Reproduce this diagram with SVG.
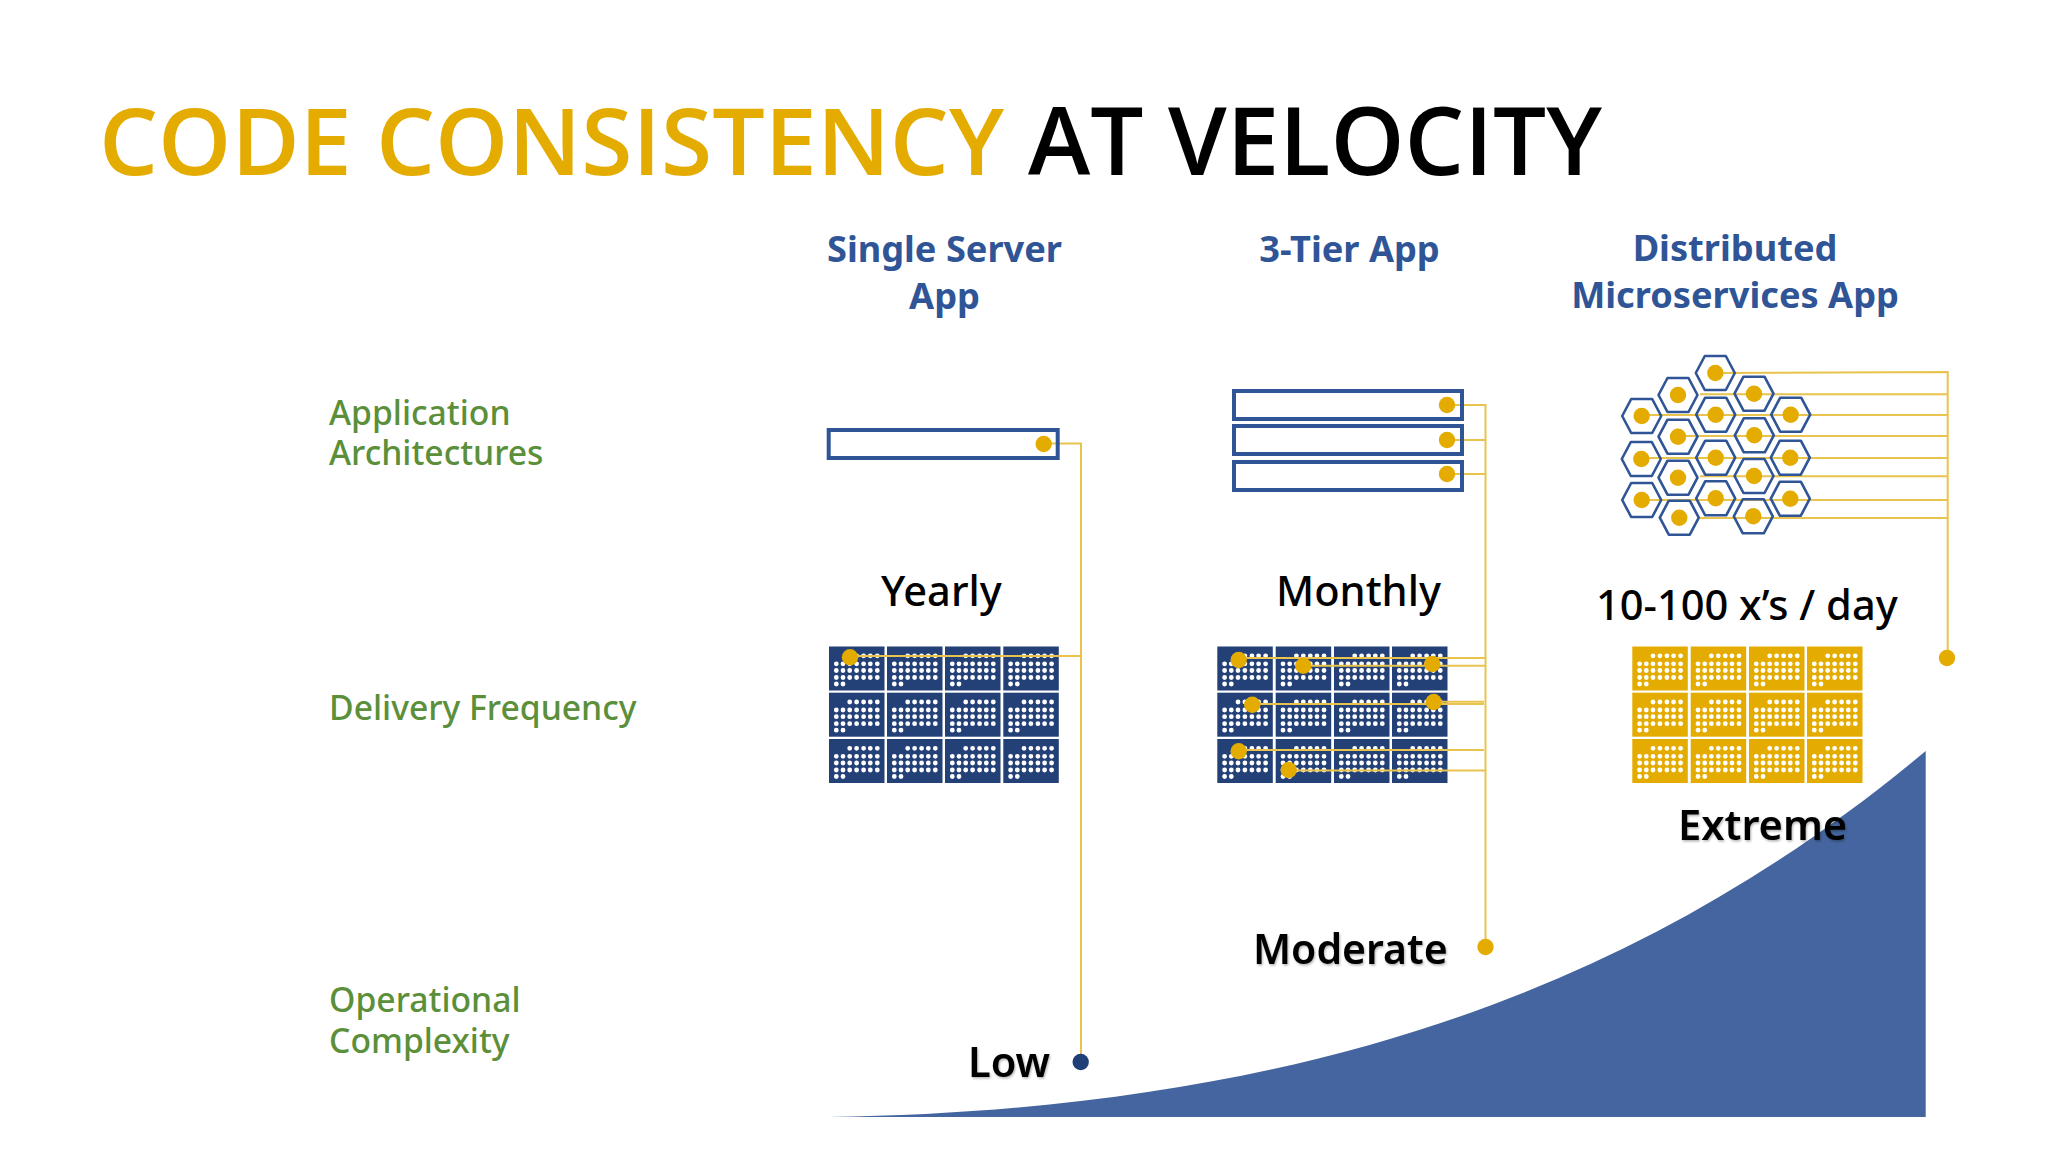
<svg xmlns="http://www.w3.org/2000/svg" width="2048" height="1152" viewBox="0 0 2048 1152">
<style>
text{font-family:"Noto Sans","Open Sans","Liberation Sans",sans-serif}
.title{font-family:"Open Sans","Noto Sans",sans-serif;font-weight:600}
.gold{fill:#E4AC00;font-size:93.2px}
.ink{fill:#000;font-size:94.2px}
.head{font-size:36.2px;font-weight:700;fill:#2F5597;text-anchor:middle}
.side{font-size:33.7px;font-weight:500;fill:#5B8F3A}
.val{font-size:41.6px;font-weight:500;fill:#000}
.valb{font-weight:600;filter:url(#soft)}
.cn{fill:none;stroke:#E8C44E;stroke-width:2}
.srv{fill:none;stroke:#2F5597;stroke-width:4}
.hex{fill:none;stroke:#2F5597;stroke-width:2.6;stroke-linejoin:round}
.pt{fill:#E4AC00}
.calb{fill:#234177}
.caly{fill:#E4AC00}
.dots{fill:none;stroke:#fff;stroke-width:4.8;stroke-linecap:round}
</style>
<defs>
<filter id="soft" x="-10%" y="-20%" width="120%" height="140%"><feDropShadow dx="1" dy="1.5" stdDeviation="1.2" flood-color="#000" flood-opacity="0.3"/></filter>
<path id="cd" class="dots" d="M20.7 9.3h0M27.6 9.3h0M34.6 9.3h0M41.3 9.3h0M48.3 9.3h0M7.3 17.3h0M14 17.3h0M20.7 17.3h0M27.6 17.3h0M34.6 17.3h0M41.3 17.3h0M48.3 17.3h0M7.3 24h0M14 24h0M20.7 24h0M27.6 24h0M34.6 24h0M41.3 24h0M48.3 24h0M7.3 31h0M14 31h0M20.7 31h0M27.6 31h0M34.6 31h0M41.3 31h0M48.3 31h0M7.3 37.5h0M14 37.5h0"/>
<g id="cb"><rect class="calb" width="55.5" height="44"/><use href="#cd"/></g>
<g id="cy"><rect class="caly" width="55.5" height="44"/><use href="#cd"/></g>
<g id="hx"><polygon class="hex" points="-19.5,0 -10.5,-17 10.5,-17 19.5,0 10.5,17 -10.5,17"/><circle class="pt" r="8.2"/></g>
</defs>
<rect width="2048" height="1152" fill="#fff"/>

<path id="complexity-curve" d="M829,1117C1300,1110 1640,990 1925.7,751V1117Z" fill="#44659F"/>

<g id="calendar-yearly">
<use href="#cb" x="829" y="646.5"/><use href="#cb" x="887" y="646.5"/><use href="#cb" x="945" y="646.5"/><use href="#cb" x="1003.3" y="646.5"/>
<use href="#cb" x="829" y="692.7"/><use href="#cb" x="887" y="692.7"/><use href="#cb" x="945" y="692.7"/><use href="#cb" x="1003.3" y="692.7"/>
<use href="#cb" x="829" y="739"/><use href="#cb" x="887" y="739"/><use href="#cb" x="945" y="739"/><use href="#cb" x="1003.3" y="739"/>
</g>
<g id="calendar-monthly">
<use href="#cb" x="1217.3" y="646.5"/><use href="#cb" x="1275.7" y="646.5"/><use href="#cb" x="1334" y="646.5"/><use href="#cb" x="1392" y="646.5"/>
<use href="#cb" x="1217.3" y="692.7"/><use href="#cb" x="1275.7" y="692.7"/><use href="#cb" x="1334" y="692.7"/><use href="#cb" x="1392" y="692.7"/>
<use href="#cb" x="1217.3" y="739"/><use href="#cb" x="1275.7" y="739"/><use href="#cb" x="1334" y="739"/><use href="#cb" x="1392" y="739"/>
</g>
<g id="calendar-daily">
<use href="#cy" x="1632.3" y="646.5"/><use href="#cy" x="1690.7" y="646.5"/><use href="#cy" x="1749" y="646.5"/><use href="#cy" x="1807" y="646.5"/>
<use href="#cy" x="1632.3" y="692.7"/><use href="#cy" x="1690.7" y="692.7"/><use href="#cy" x="1749" y="692.7"/><use href="#cy" x="1807" y="692.7"/>
<use href="#cy" x="1632.3" y="739"/><use href="#cy" x="1690.7" y="739"/><use href="#cy" x="1749" y="739"/><use href="#cy" x="1807" y="739"/>
</g>

<g id="connectors">
<path class="cn" d="M1043.7 443.5H1081V1062M850 656H1081"/>
<path class="cn" d="M1447 405H1485.5V947M1447 440H1485.5M1447 474H1485.5M1238.7 658H1485.5M1303.3 665.7H1485.5M1433.7 701.7H1484M1252.3 704H1484M1238.7 750H1484M1288.7 770.5H1485.5"/>
<path class="cn" d="M1715.3 373L1947.7 372V658M1700 394.3H1947.7M1641.7 415H1947.7M1678 436H1947.7M1641.3 458H1947.7M1700 476.3H1947.7M1641.7 500H1947.7M1700 518H1947.7"/>
</g>

<g id="server-single"><rect class="srv" x="828.7" y="430" width="229" height="28"/><circle class="pt" cx="1043.7" cy="444" r="8.2"/></g>
<g id="server-tier-1"><rect class="srv" x="1234" y="391" width="228" height="28"/><circle class="pt" cx="1447" cy="405" r="8.2"/></g>
<g id="server-tier-2"><rect class="srv" x="1234" y="426" width="228" height="28"/><circle class="pt" cx="1447" cy="440" r="8.2"/></g>
<g id="server-tier-3"><rect class="srv" x="1234" y="462" width="228" height="28"/><circle class="pt" cx="1447" cy="474" r="8.2"/></g>

<g id="microservices">
<use href="#hx" x="1715.3" y="373"/><use href="#hx" x="1678" y="395"/><use href="#hx" x="1754" y="393.7"/>
<use href="#hx" x="1641.7" y="416"/><use href="#hx" x="1715.7" y="414.7"/><use href="#hx" x="1790.7" y="414.7"/>
<use href="#hx" x="1678" y="436.7"/><use href="#hx" x="1754.3" y="435.3"/><use href="#hx" x="1641.3" y="459"/>
<use href="#hx" x="1715.7" y="457.7"/><use href="#hx" x="1790.3" y="457.7"/><use href="#hx" x="1678" y="477.7"/>
<use href="#hx" x="1754" y="476"/><use href="#hx" x="1641.7" y="500"/><use href="#hx" x="1715.7" y="498.3"/>
<use href="#hx" x="1790.3" y="498.7"/><use href="#hx" x="1679.3" y="517.7"/><use href="#hx" x="1753.3" y="516.3"/>
</g>

<g id="release-points">
<circle class="pt" cx="850" cy="657.3" r="8.2"/>
<circle class="pt" cx="1238.7" cy="660" r="8.2"/><circle class="pt" cx="1303.3" cy="665.7" r="8.2"/><circle class="pt" cx="1432.3" cy="664" r="8.2"/>
<circle class="pt" cx="1252.3" cy="704.7" r="8.2"/><circle class="pt" cx="1433.7" cy="702" r="8.2"/>
<circle class="pt" cx="1238.7" cy="751.3" r="8.2"/><circle class="pt" cx="1288.7" cy="770" r="8.2"/>
</g>

<g id="end-points">
<circle cx="1080.7" cy="1062" r="8.2" fill="#1F3F77"/>
<circle class="pt" cx="1485.5" cy="947" r="8.2"/>
<circle class="pt" cx="1947" cy="658" r="8.2"/>
</g>

<g id="title"><text class="title" y="175"><tspan class="gold" x="99">CODE CONSISTENCY</tspan><tspan class="ink" x="1028">AT VELOCITY</tspan></text></g>

<g id="column-heads">
<text class="head" x="944.5" y="262">Single Server</text><text class="head" x="944.5" y="309">App</text>
<text class="head" x="1349.5" y="262">3-Tier App</text>
<text class="head" x="1735" y="261">Distributed</text><text class="head" x="1735" y="308">Microservices App</text>
</g>
<g id="row-labels">
<text class="side" x="329" y="424.5">Application</text><text class="side" x="329" y="465">Architectures</text>
<text class="side" x="329" y="720">Delivery Frequency</text>
<text class="side" x="329" y="1012">Operational</text><text class="side" x="329" y="1053">Complexity</text>
</g>
<g id="values">
<text class="val" x="881" y="606">Yearly</text>
<text class="val" x="1276" y="606">Monthly</text>
<text class="val" x="1596" y="620">10-100 x’s / day</text>
<text class="val valb" x="1678" y="840">Extreme</text>
<text class="val valb" x="1253" y="964" style="font-size:41px">Moderate</text>
<text class="val valb" x="968" y="1077">Low</text>
</g>
</svg>
